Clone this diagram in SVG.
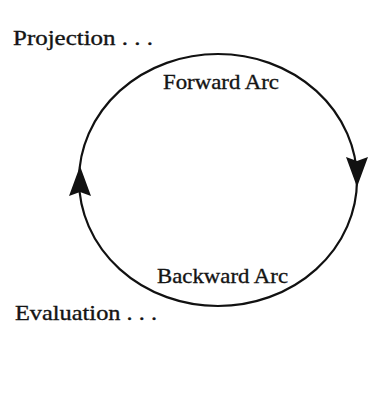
<svg xmlns="http://www.w3.org/2000/svg" xmlns:xlink="http://www.w3.org/1999/xlink" width="375" height="402" viewBox="0 0 375 402">
<style>
.lbl{font-family:"Liberation Serif","Times New Roman",serif;font-size:21.5px;fill:#141414;stroke:#141414;stroke-width:0.35}
.arc{fill:none;stroke:#111;stroke-width:2.2}
.head{fill:#111;stroke:none}
</style>
<defs>
<path id="ah" d="M0,0 L-11,30 L0,26 L11,30 Z"/>
</defs>
<rect width="375" height="402" fill="#fff"/>
<g id="connectors">
<g id="forward-arc">
<path class="arc" d="M79,180 A139,126 0 0 1 357,180"/>
<use class="head" xlink:href="#ah" transform="translate(357,187) rotate(180)"/>
</g>
<g id="backward-arc">
<path class="arc" d="M357,180 A139,126 0 0 1 79,180"/>
<use class="head" xlink:href="#ah" transform="translate(80,166)"/>
</g>
</g>
<g id="projection"><text class="lbl" x="13" y="45" textLength="140" lengthAdjust="spacingAndGlyphs">Projection . . .</text></g>
<g id="forward-label"><text class="lbl" x="163" y="89" textLength="116" lengthAdjust="spacingAndGlyphs">Forward Arc</text></g>
<g id="backward-label"><text class="lbl" x="157" y="283" textLength="131" lengthAdjust="spacingAndGlyphs">Backward Arc</text></g>
<g id="evaluation"><text class="lbl" x="15" y="320" textLength="142" lengthAdjust="spacingAndGlyphs">Evaluation . . .</text></g>
</svg>
